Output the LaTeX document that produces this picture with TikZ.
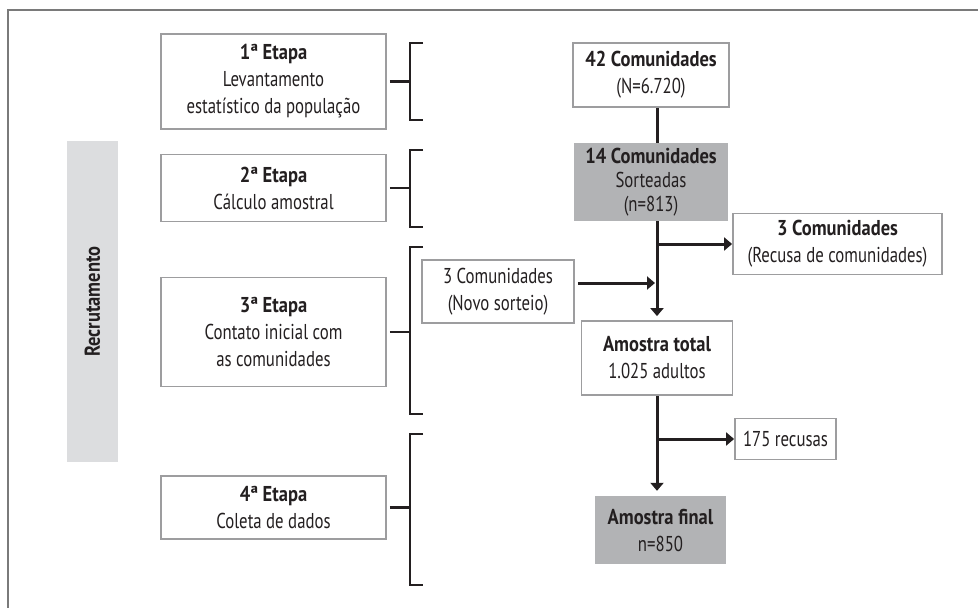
\documentclass[tikz,border=0pt]{standalone}
\usepackage{fontspec}
\setmainfont{PT Sans}[FakeStretch=0.78, BoldFeatures={FakeStretch=0.86}]
\usetikzlibrary{positioning,arrows.meta}

\definecolor{framegray}{HTML}{7A7A7A}
\definecolor{boxgray}{HTML}{9D9D9F}
\definecolor{fillgray}{HTML}{B2B3B5}
\definecolor{bandgray}{HTML}{DCDDDF}
\definecolor{ink}{HTML}{231F20}

\begin{document}
\begin{tikzpicture}[
        x=1pt, y=-1pt,
        font=\fontsize{21.5}{27}\selectfont,
        text=ink,
        box/.style={
            draw=boxgray,
            line width=1.8pt,
            fill=white,
            align=center,
            inner sep=0pt
        },
        shaded/.style={
            fill=fillgray,
            align=center,
            inner sep=0pt
        },
        bracket/.style={draw=ink, line width=2.8pt},
        link/.style={draw=ink, line width=3pt},
        arrow/.style={link, -{Triangle[length=8pt,width=13pt]}}
    ]
    \useasboundingbox (0,0) rectangle (978,608);
    \draw[framegray, line width=1.5pt] (978,10) -- (8,10) -- (8,608);

    % recruitment band
    \node[fill=bandgray, rotate=90, inner sep=0pt, minimum width=321, minimum height=51,
        font=\fontsize{21.5}{27}\selectfont\bfseries] (band) at (92.5,301.5) {Recrutamento};

    % stages
    \node[box, minimum width=225, minimum height=95] (s1) at (273.5,81.5)
        {\textbf{1ª Etapa}\\Levantamento\\estatístico da população};
    \node[box, minimum width=225, minimum height=67] (s2) at (273.5,188)
        {\textbf{2ª Etapa}\\Cálculo amostral};
    \node[box, minimum width=225, minimum height=109] (s3) at (273.5,332)
        {\textbf{3ª Etapa}\\Contato inicial com\\as comunidades};
    \node[box, minimum width=225, minimum height=63] (s4) at (273.5,507.5)
        {\textbf{4ª Etapa}\\Coleta de dados};

    % brackets
    \foreach \name/\top/\bot in {s1/43/120, s2/150/227, s3/247/414, s4/434/585} {
        \draw[bracket] (423,\top) -- (410,\top) -- (410,\bot) -- (423,\bot);
        \draw[bracket] ([xshift=3pt]\name.east) -- ++(21,0);
    }

    % flow
    \node[box, minimum width=156, minimum height=64] (c42) at (651,75)
        {\textbf{42 Comunidades}\\(N=6.720)};
    \node[shaded, minimum width=154, minimum height=78] (c14) at (651,182)
        {\textbf{14 Comunidades}\\[-3pt]Sorteadas\\[-3pt](n=813)};
    \node[box, minimum width=209, minimum height=61] (recusa) at (837.5,244)
        {\textbf{3 Comunidades}\\(Recusa de comunidades)};
    \node[box, minimum width=152, minimum height=63] (novo) at (498,291.5)
        {3 Comunidades\\(Novo sorteio)};
    \node[box, minimum width=151, minimum height=74] (total) at (657,358)
        {\textbf{Amostra total}\\1.025 adultos};
    \node[box, minimum width=101, minimum height=41] (recusas) at (785.5,439)
        {175 recusas};
    \node[shaded, minimum width=131, minimum height=68] (final) at (660.5,530)
        {\textbf{Amostra final}\\n=850};

    \draw[link] (c42.south -| total.north) -- (c14.north -| total.north);
    \draw[arrow, shorten >=4pt] (c14.south -| total.north) -- (total.north);
    \draw[arrow] (total.north |- recusa.west) -- (recusa.west);
    \draw[arrow] ([xshift=3pt,yshift=8.5pt]novo.east) -- ([xshift=-2pt,yshift=8.5pt]novo.east -| total.north);
    \draw[arrow, shorten >=5pt] (total.south) -- (total.south |- final.north);
    \draw[arrow] (total.south |- recusas.west) -- (recusas.west);
\end{tikzpicture}
\end{document}
